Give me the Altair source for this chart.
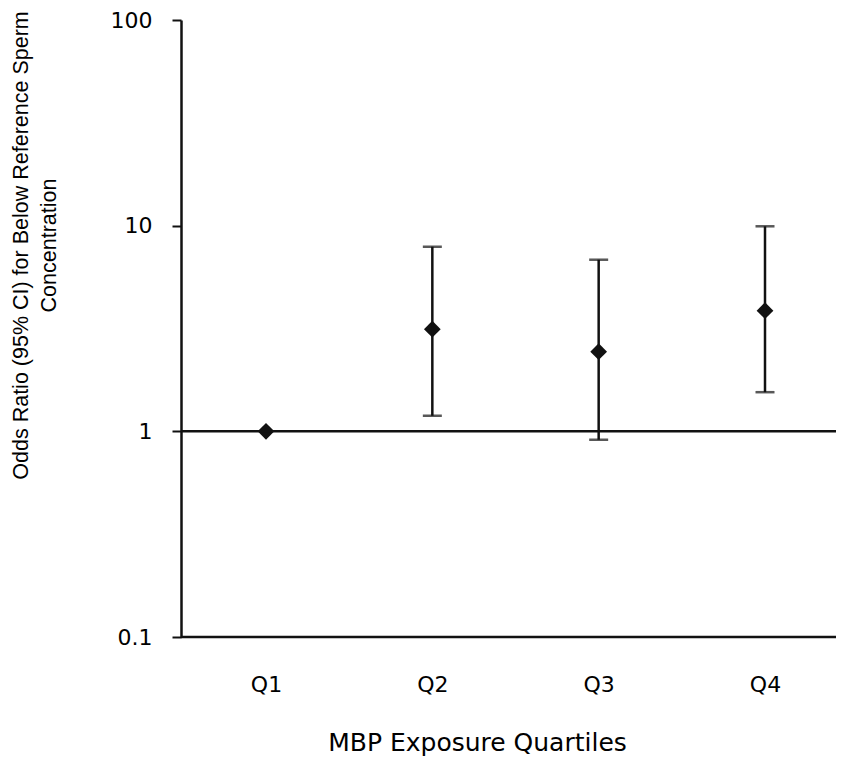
import altair as alt
import pandas as pd

# ---- data ----
quartiles = ["Q1", "Q2", "Q3", "Q4"]
odds_ratios = [1.0, 3.14, 2.44, 3.86]
ci_lower = [None, 1.19, 0.91, 1.55]
ci_upper = [None, 7.9, 6.83, 9.93]
y_ticks = [0.1, 1, 10, 100]
reference_line = [1]
baseline_value = [0.1]

df = pd.DataFrame({"quartile": quartiles, "or": odds_ratios, "lo": ci_lower, "hi": ci_upper})
ci_df = df.dropna()

W = 655
H = 617
INK = "#111111"

x_enc = alt.X(
    "quartile:N",
    sort=quartiles,
    scale=alt.Scale(type="point", range=[85, 584], padding=0),
    axis=alt.Axis(
        title="MBP Exposure Quartiles",
        domain=False,
        ticks=False,
        labelAngle=0,
        labelPadding=37,
        labelFont="DejaVu Sans",
        labelFontSize=22,
        labelColor="#000000",
        titleFont="DejaVu Sans",
        titleFontSize=25,
        titleFontWeight="normal",
        titleColor="#000000",
        titleX=296,
        titleY=113,
        titleAlign="center",
        titleBaseline="alphabetic",
    ),
)

y_scale = alt.Scale(type="log", domain=[0.1, 100], nice=False)
y_axis = alt.Axis(
    values=y_ticks,
    format="~g",
    grid=False,
    title=["Odds Ratio (95% CI) for Below Reference Sperm", "Concentration"],
    tickSize=9,
    tickWidth=2,
    tickColor=INK,
    domainWidth=2.5,
    domainColor=INK,
    labelFont="DejaVu Sans",
    labelFontSize=22,
    labelColor="#000000",
    labelPadding=20,
    titleFont="Liberation Sans",
    titleFontSize=21.5,
    titleFontWeight="normal",
    titleColor="#000000",
    titleAngle=270,
    titleX=-160,
    titleY=225,
    titleAlign="center",
    titleBaseline="middle",
    titleLineHeight=28,
)

base = alt.Chart(df)

points = base.mark_point(shape="diamond", filled=True, size=280, color=INK, opacity=1).encode(
    x=x_enc, y=alt.Y("or:Q", scale=y_scale, axis=y_axis)
)

bars = alt.Chart(ci_df).mark_rule(color=INK, strokeWidth=2.5).encode(
    x=alt.X("quartile:N", sort=quartiles), y=alt.Y("lo:Q"), y2="hi:Q"
)
cap_lo = alt.Chart(ci_df).mark_tick(color=INK, size=19, thickness=2.5, orient="horizontal").encode(
    x=alt.X("quartile:N", sort=quartiles), y=alt.Y("lo:Q")
)
cap_hi = alt.Chart(ci_df).mark_tick(color=INK, size=19, thickness=2.5, orient="horizontal").encode(
    x=alt.X("quartile:N", sort=quartiles), y=alt.Y("hi:Q")
)

ref = alt.Chart(pd.DataFrame({"v": reference_line})).mark_rule(color=INK, strokeWidth=2.5).encode(
    y=alt.Y("v:Q"), x=alt.value(0), x2=alt.value(W)
)
xline = alt.Chart(pd.DataFrame({"v": baseline_value})).mark_rule(color=INK, strokeWidth=2.5).encode(
    y=alt.Y("v:Q"), x=alt.value(0), x2=alt.value(W)
)

chart = (
    alt.layer(points, ref, xline, bars, cap_lo, cap_hi)
    .properties(
        width=W,
        height=H,
        autosize=alt.AutoSizeParams(type="none"),
        padding={"left": 173, "top": 12, "right": 0, "bottom": 122},
        background="white",
    )
    .configure_view(stroke=None)
)

chart.save("out.html", embed_options={"renderer": "svg", "actions": False})
